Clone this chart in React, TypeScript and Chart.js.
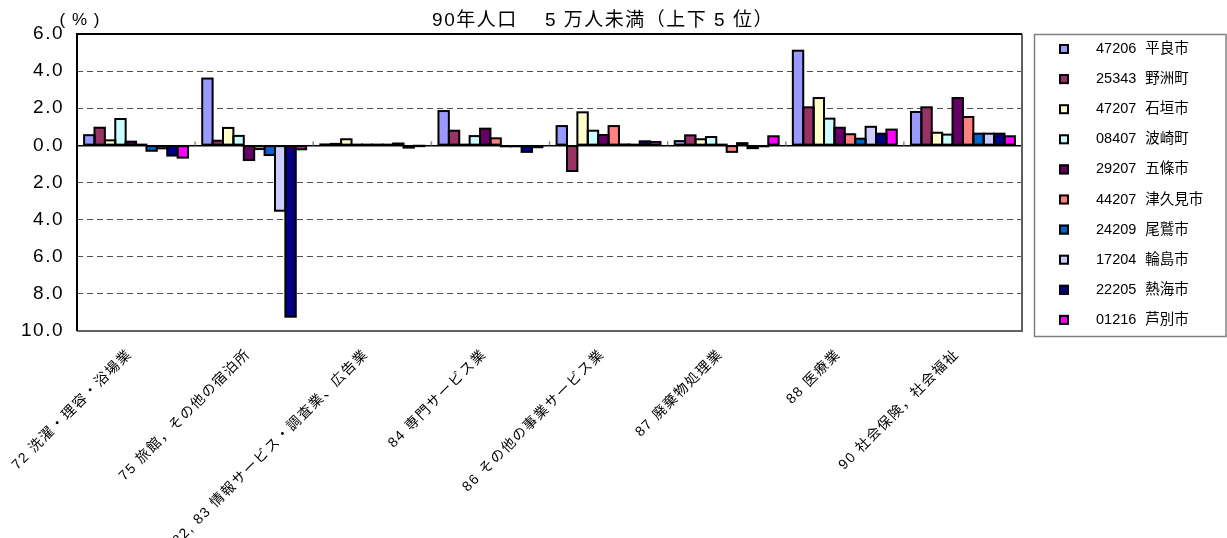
import React, { useEffect, useRef } from "react";
import { Chart, registerables } from "chart.js";

Chart.register(...registerables);

const categories = [
  "72 洗濯・理容・浴場業",
  "75 旅館，その他の宿泊所",
  "82, 83 情報サービス・調査業、広告業",
  "84 専門サービス業",
  "86 その他の事業サービス業",
  "87 廃棄物処理業",
  "88 医療業",
  "90 社会保険，社会福祉",
];

const seriesNames = [
  "47206 平良市",
  "25343 野洲町",
  "47207 石垣市",
  "08407 波崎町",
  "29207 五條市",
  "44207 津久見市",
  "24209 尾鷲市",
  "17204 輪島市",
  "22205 熱海市",
  "01216 芦別市",
];

const seriesColors = [
  "#9999FF",
  "#993366",
  "#FFFFCC",
  "#CCFFFF",
  "#660066",
  "#FF8080",
  "#0066CC",
  "#CCCCFF",
  "#000080",
  "#FF00FF",
];

const hirara = [0.55, 3.6, 0.05, 1.85, 1.04, 0.23, 5.1, 1.8];
const yasu = [0.95, 0.25, 0.08, 0.79, -1.38, 0.54, 2.05, 2.05];
const ishigaki = [0.27, 0.94, 0.33, 0.02, 1.78, 0.33, 2.55, 0.68];
const hasaki = [1.42, 0.51, 0.02, 0.5, 0.79, 0.45, 1.44, 0.58];
const gojo = [0.2, -0.79, 0.02, 0.9, 0.56, 0.02, 0.95, 2.55];
const tsukumi = [0.03, -0.2, 0.02, 0.38, 1.04, -0.35, 0.6, 1.53];
const owase = [-0.29, -0.52, 0.03, -0.05, 0.05, 0.12, 0.36, 0.63];
const wajima = [-0.16, -3.52, 0.1, -0.05, 0.02, -0.15, 1.0, 0.63];
const atami = [-0.55, -9.23, -0.12, -0.35, 0.22, -0.05, 0.63, 0.63];
const ashibetsu = [-0.66, -0.21, -0.02, -0.1, 0.18, 0.49, 0.85, 0.49];

const seriesValues = [hirara, yasu, ishigaki, hasaki, gojo, tsukumi, owase, wajima, atami, ashibetsu];

const yTicks = [6, 4, 2, 0, -2, -4, -6, -8, -10];

const titleText = "90年人口　 5 万人未満（上下 5 位）";
const unitText = "( % )";

const FONT_LATIN_CJK = '"Liberation Sans", Arial, "Noto Sans CJK JP", sans-serif';

const decorPlugin = {
  id: "decor",
  beforeDraw(chart: any) {
    chart.ctx.letterSpacing = "1.5px";
  },
  beforeDatasetsDraw(chart: any) {
    const ctx = chart.ctx;
    const x = chart.scales.x;
    const y = chart.scales.y;
    const zy = y.getPixelForValue(0);
    ctx.save();
    ctx.strokeStyle = "#888";
    ctx.lineWidth = 1.5;
    for (let i = 1; i < categories.length; i++) {
      const bx = (x.getPixelForValue(i - 1) + x.getPixelForValue(i)) / 2;
      ctx.beginPath();
      ctx.moveTo(bx, zy - 4);
      ctx.lineTo(bx, zy);
      ctx.stroke();
    }
    ctx.restore();
  },
  afterDatasetsDraw(chart: any) {
    const ctx = chart.ctx;
    const a = chart.chartArea;
    ctx.save();
    // bar outlines, stroked centred on the bar edges (as the original)
    ctx.strokeStyle = "#000";
    ctx.lineWidth = 2;
    chart.data.datasets.forEach((_ds: any, di: number) => {
      const meta = chart.getDatasetMeta(di);
      meta.data.forEach((el: any) => {
        const p = el.getProps(["x", "y", "base", "width"], true);
        const top = Math.min(p.y, p.base);
        const h = Math.abs(p.y - p.base);
        ctx.strokeRect(p.x - p.width / 2, top, p.width, h);
      });
    });
    ctx.lineWidth = 2;
    ctx.strokeStyle = "#606060";
    ctx.beginPath();
    ctx.moveTo(a.right, a.top);
    ctx.lineTo(a.right, a.bottom);
    ctx.lineTo(a.left, a.bottom);
    ctx.stroke();
    ctx.strokeStyle = "#000";
    ctx.beginPath();
    ctx.moveTo(a.left, a.bottom);
    ctx.lineTo(a.left, a.top);
    ctx.lineTo(a.right, a.top);
    ctx.stroke();
    ctx.restore();
  },
  afterDraw(chart: any) {
    const ctx = chart.ctx;
    ctx.save();
    ctx.letterSpacing = "1.5px";
    ctx.fillStyle = "#000";
    ctx.textBaseline = "middle";
    ctx.textAlign = "center";
    ctx.font = '19px "Liberation Sans", Arial, "Noto Sans CJK JP", sans-serif';
    ctx.fillText(titleText, 603, 21);
    ctx.letterSpacing = "1px";
    ctx.font = '17px "Liberation Sans", Arial, sans-serif';
    ctx.fillText(unitText, 80, 20);

    // legend
    ctx.letterSpacing = "0px";
    ctx.strokeStyle = "#808080";
    ctx.lineWidth = 1.5;
    ctx.strokeRect(1034.5, 34.5, 191.5, 302);
    ctx.textAlign = "left";
    ctx.font = "14.5px " + FONT_LATIN_CJK;
    chart.data.datasets.forEach((ds: any, i: number) => {
      const cy = 49 + i * 30.1;
      ctx.fillStyle = ds.backgroundColor;
      ctx.fillRect(1059, cy - 5, 10, 10);
      ctx.strokeStyle = "#000";
      ctx.lineWidth = 2;
      ctx.strokeRect(1060, cy - 4, 8, 8);
      const [code, name] = String(ds.label).split(" ");
      ctx.fillStyle = "#000";
      ctx.fillText(code, 1096, cy);
      const w = ctx.measureText(code).width;
      ctx.fillText(name, 1096 + w + 9, cy);
    });
    ctx.restore();
  },
};

export default function App() {
  const ref = useRef<HTMLCanvasElement | null>(null);

  useEffect(() => {
    if (!ref.current) return;
    const chart = new Chart(ref.current, {
      type: "bar",
      data: {
        labels: categories,
        datasets: seriesNames.map((name, i) => ({
          label: name,
          data: seriesValues[i],
          backgroundColor: seriesColors[i],
          borderWidth: 0,
          categoryPercentage: 0.88,
          barPercentage: 1.0,
        })),
      },
      options: {
        animation: false,
        responsive: false,
        devicePixelRatio: 1,
        layout: { padding: { top: 34, right: 205, left: 0, bottom: 0 } },
        plugins: {
          legend: { display: false },
          title: { display: false },
          tooltip: { enabled: false },
        },
        scales: {
          x: {
            grid: { display: false, drawTicks: false },
            border: { display: false },
            ticks: {
              autoSkip: false,
              minRotation: 45,
              maxRotation: 45,
              padding: 15,
              labelOffset: -6,
              color: "#000",
              font: { size: 14, family: FONT_LATIN_CJK },
            },
            afterFit: (s: any) => {
              s.height = 207;
              s.paddingLeft = 0;
              s.paddingRight = 0;
            },
          },
          y: {
            min: -10,
            max: 6,
            afterBuildTicks: (s: any) => {
              s.ticks = yTicks.map((v) => ({ value: v }));
            },
            grid: {
              drawTicks: false,
              color: (c: any) => (c.tick && c.tick.value === 0 ? "#000" : "#505050"),
              lineWidth: (c: any) => (c.tick && c.tick.value === 0 ? 1.5 : 1),
            },
            border: {
              display: false,
              dash: (c: any) => (c.tick && c.tick.value === 0 ? [] : [6, 4]),
            },
            ticks: {
              padding: 13,
              color: "#000",
              font: { size: 19, family: '"Liberation Sans", Arial, sans-serif' },
              callback: (v: any) => Math.abs(Number(v)).toFixed(1),
            },
            afterFit: (s: any) => {
              s.width = 77;
              s.paddingTop = 0;
              s.paddingBottom = 0;
            },
          },
        },
      },
      plugins: [decorPlugin],
    } as any);
    return () => chart.destroy();
  }, []);

  return (
    <div style={{ position: "absolute", left: 0, top: 0, width: 1227, height: 538, background: "#fff" }}>
      <canvas ref={ref} width={1227} height={538} />
    </div>
  );
}
